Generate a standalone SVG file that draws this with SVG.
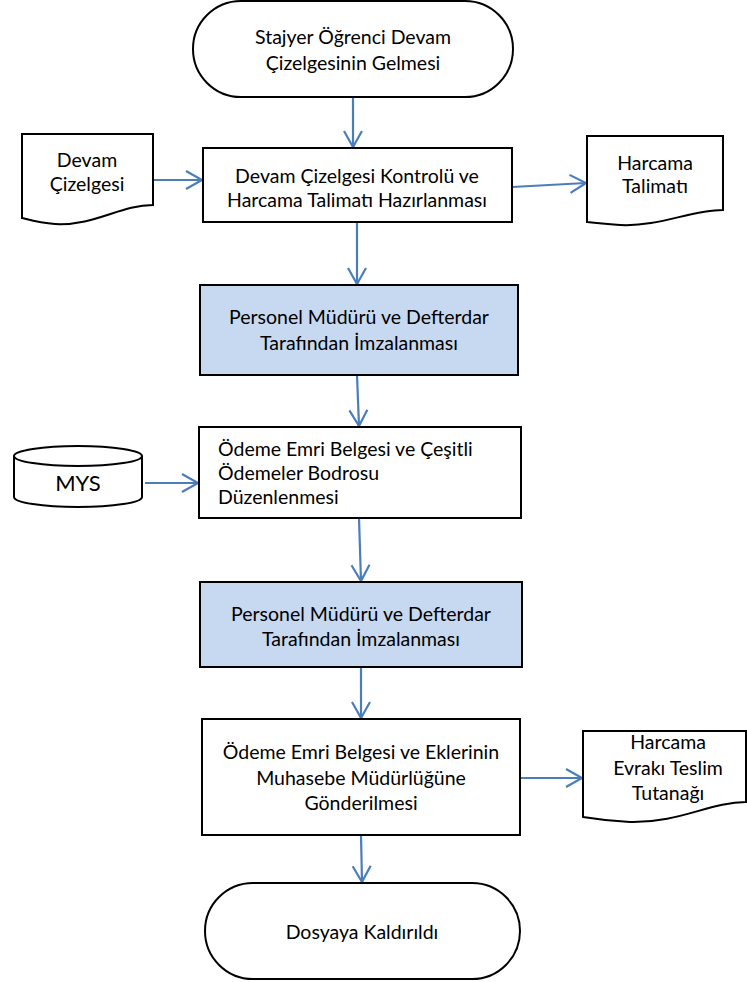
<svg xmlns="http://www.w3.org/2000/svg" width="747" height="982" viewBox="0 0 747 982">
<defs>
<style>
.sh{fill:#fff;stroke:#000;stroke-width:2}
.bl{fill:#C6D9F1;stroke:#000;stroke-width:2}
.t{font-family:"Lato","Liberation Sans",sans-serif;font-size:19.5px;fill:#000;text-anchor:middle}
.tl{font-family:"Lato","Liberation Sans",sans-serif;font-size:19.5px;fill:#000;text-anchor:start}
.c{fill:none;stroke:#4A7EBB;stroke-width:2.2;marker-end:url(#ah)}
</style>
<marker id="ah" markerUnits="userSpaceOnUse" markerWidth="20" markerHeight="22" refX="17" refY="11" orient="auto">
<path d="M1,2 L17,11 L1,20" fill="none" stroke="#4A7EBB" stroke-width="2.2"/>
</marker>
</defs>
<rect width="747" height="982" fill="#fff"/>
<g id="connectors">
<line class="c" x1="353" y1="97" x2="353" y2="147"/>
<line class="c" x1="153" y1="180" x2="202" y2="180"/>
<line class="c" x1="512" y1="187" x2="586" y2="183"/>
<line class="c" x1="357" y1="222" x2="357" y2="284"/>
<line class="c" x1="357" y1="375" x2="359" y2="426"/>
<line class="c" x1="145" y1="483" x2="198" y2="483"/>
<line class="c" x1="359" y1="518" x2="361" y2="581"/>
<line class="c" x1="361" y1="667" x2="361" y2="718"/>
<line class="c" x1="520" y1="778" x2="582" y2="778"/>
<line class="c" x1="361" y1="835" x2="362" y2="882"/>
</g>
<g id="start">
<rect class="sh" x="193" y="1" width="320" height="96" rx="48" ry="48"/>
<text class="t" x="353" y="44">Stajyer Öğrenci Devam</text>
<text class="t" x="353" y="70">Çizelgesinin Gelmesi</text>
</g>
<g id="devam-cizelgesi">
<path class="sh" d="M22,134 L153,134 L153,205 C120,205 95,226 55,224 C40,223 30,220 22,218 Z"/>
<text class="t" x="87" y="167">Devam</text>
<text class="t" x="87" y="191">Çizelgesi</text>
</g>
<g id="kontrol">
<rect class="sh" x="203" y="148" width="309" height="74"/>
<text class="t" x="357" y="183">Devam Çizelgesi Kontrolü ve</text>
<text class="t" x="357" y="207">Harcama Talimatı Hazırlanması</text>
</g>
<g id="harcama-talimati">
<path class="sh" d="M587,136 L723,136 L723,210 C690,210 660,227 620,225 C605,224 595,223 587,222 Z"/>
<text class="t" x="655" y="170">Harcama</text>
<text class="t" x="655" y="193">Talimatı</text>
</g>
<g id="imza1">
<rect class="bl" x="200" y="285" width="318" height="90"/>
<text class="t" x="359" y="324">Personel Müdürü ve Defterdar</text>
<text class="t" x="359" y="350">Tarafından İmzalanması</text>
</g>
<g id="mys">
<path class="sh" d="M14,456 A64,10 0 0 1 142,456 L142,497 A64,10 0 0 1 14,497 Z"/>
<path d="M14,456 A64,10 0 0 0 142,456" fill="none" stroke="#000" stroke-width="2"/>
<text class="t" x="78" y="491" style="font-size:22px">MYS</text>
</g>
<g id="odeme-emri">
<rect class="sh" x="199" y="427" width="322" height="91"/>
<text class="tl" x="218" y="456">Ödeme Emri Belgesi ve Çeşitli</text>
<text class="tl" x="218" y="480">Ödemeler Bodrosu</text>
<text class="tl" x="218" y="504">Düzenlenmesi</text>
</g>
<g id="imza2">
<rect class="bl" x="200" y="582" width="322" height="85"/>
<text class="t" x="361" y="621">Personel Müdürü ve Defterdar</text>
<text class="t" x="361" y="646">Tarafından İmzalanması</text>
</g>
<g id="gonderim">
<rect class="sh" x="202" y="719" width="318" height="116"/>
<text class="t" x="361" y="759">Ödeme Emri Belgesi ve Eklerinin</text>
<text class="t" x="361" y="785">Muhasebe Müdürlüğüne</text>
<text class="t" x="361" y="810">Gönderilmesi</text>
</g>
<g id="tutanak">
<path class="sh" d="M583,731 L746,731 L746,802 C710,802 680,823 630,822 C610,821 595,819 583,817 Z"/>
<text class="t" x="668" y="749">Harcama</text>
<text class="t" x="668" y="775">Evrakı Teslim</text>
<text class="t" x="668" y="800">Tutanağı</text>
</g>
<g id="end">
<rect class="sh" x="205" y="883" width="315" height="96" rx="48" ry="48"/>
<text class="t" x="362" y="939">Dosyaya Kaldırıldı</text>
</g>
</svg>
